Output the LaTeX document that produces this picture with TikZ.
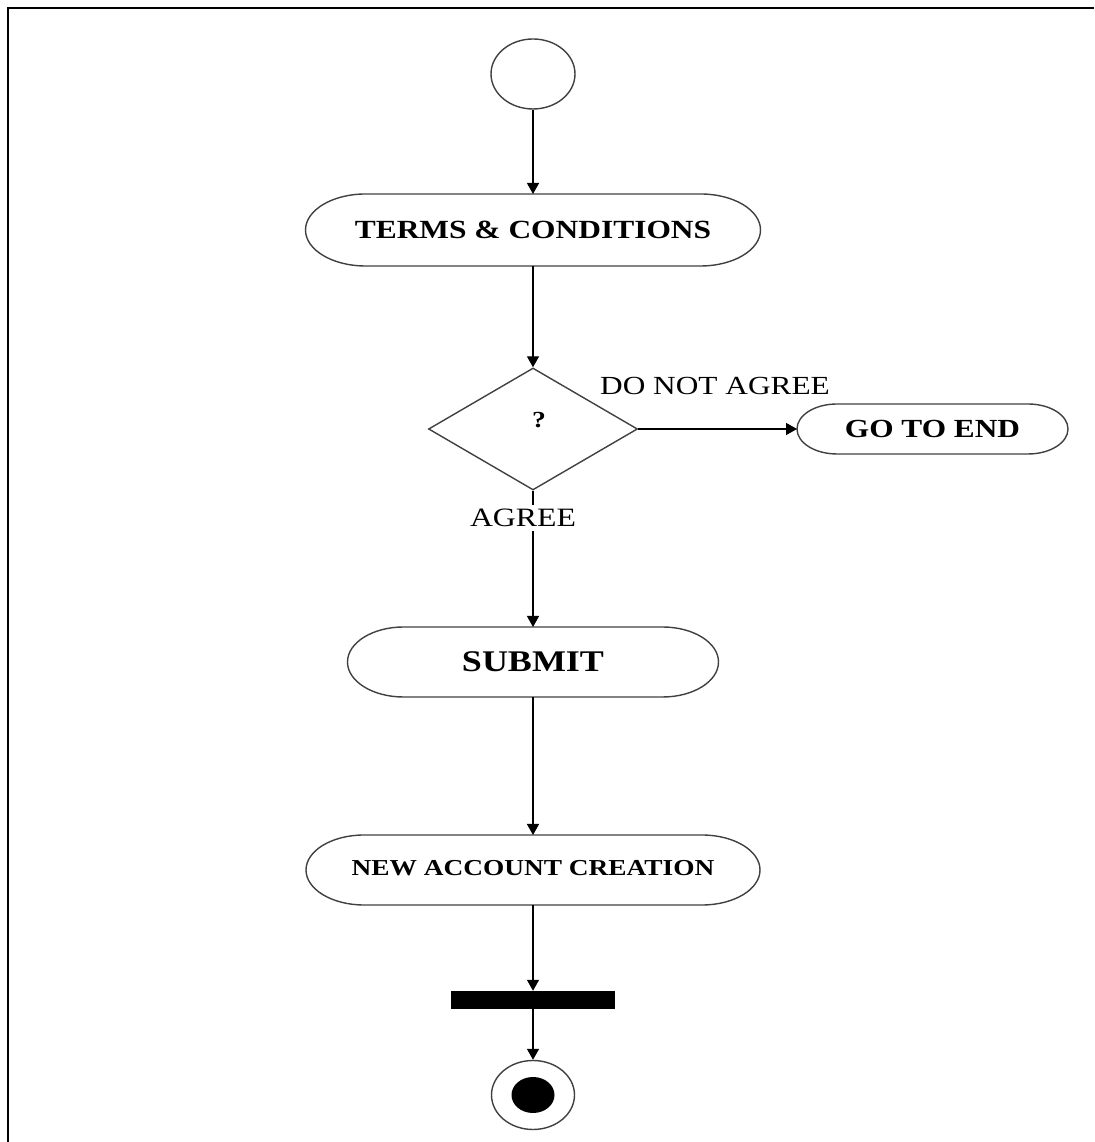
\documentclass[tikz,border=0pt]{standalone}
\usepackage{fontspec}
\setmainfont{Liberation Serif}[FakeStretch=1.2]
\usetikzlibrary{arrows.meta,shapes.geometric}

% outline of an activity box: straight top and bottom, elliptic ends
\newcommand\pillpath[3]{%
  \draw[outl] ([xshift=#2pt]#1.north west) -- ([xshift=-#2pt]#1.north east)
    arc[start angle=90,end angle=-90,x radius=#2pt,y radius=#3pt]
    -- ([xshift=#2pt]#1.south west)
    arc[start angle=270,end angle=90,x radius=#2pt,y radius=#3pt] -- cycle;}

\tikzset{
  outl/.style={draw=black!75,line width=1.4pt},
  pill/.style={inner sep=0pt,outer sep=0pt},
  conn/.style={line width=1.4pt,-{Triangle[length=11pt,width=12pt]}},
  txt/.style={inner sep=0pt},
}

\begin{document}
\begin{tikzpicture}[x=1pt,y=1pt]
\useasboundingbox (0,0) rectangle (1094,1142);

% frame
\draw[line width=2.5pt] (8,0) -- (8,1134) -- (1094,1134);

% initial node
\node[ellipse,outl,minimum width=84pt,minimum height=70pt,inner sep=0pt] (start) at (533,1068) {};

% activities
\node[pill,minimum width=455pt,minimum height=72pt] (terms) at (533,912)
  {\bfseries\fontsize{26.2}{30}\selectfont TERMS \& CONDITIONS};
\pillpath{terms}{60}{36}

\node[diamond,outl,minimum width=209pt,minimum height=122pt,inner sep=0pt] (dec) at (533,713) {};
\node[txt] (q) at (539,722) {\bfseries\fontsize{23}{26}\selectfont ?};

\node[pill,minimum width=271pt,minimum height=50pt] (goend) at (932.5,713)
  {\bfseries\fontsize{26.1}{30}\selectfont GO TO END};
\pillpath{goend}{40}{25}

\node[pill,minimum width=371pt,minimum height=70pt] (submit) at (533,480)
  {\bfseries\fontsize{30}{34}\selectfont SUBMIT};
\pillpath{submit}{56}{35}

\node[pill,minimum width=454pt,minimum height=70pt] (newacc) at (533,272)
  {\raisebox{4pt}{\bfseries\fontsize{22.8}{26}\selectfont NEW ACCOUNT CREATION}};
\pillpath{newacc}{58}{35}

% synchronisation bar
\node[fill=black,minimum width=164pt,minimum height=18pt,inner sep=0pt] (bar) at (533,142) {};

% final node
\node[ellipse,outl,minimum width=83pt,minimum height=69pt,inner sep=0pt] (fin) at (533,47) {};
\node[ellipse,fill=black,minimum width=43pt,minimum height=36pt,inner sep=0pt] (fincore) at (fin.center) {};

% connectors
\draw[conn] (start.south) -- (terms.north);
\draw[conn] (terms.south) -- (dec.north);
\draw[conn] (dec.east) -- (goend.west);
\draw[conn] (dec.south) -- (submit.north);
\draw[conn] (submit.south) -- (newacc.north);
\draw[conn] (newacc.south) -- (bar.north);
\draw[conn] (bar.south) -- (fin.north);

% guard labels
\node[txt] (dna) at (715,756) {\fontsize{26.1}{30}\selectfont DO NOT AGREE};
\node[txt,fill=white,inner ysep=4pt] (agr) at (523,624) {\fontsize{26.5}{30}\selectfont AGREE};
\end{tikzpicture}
\end{document}
